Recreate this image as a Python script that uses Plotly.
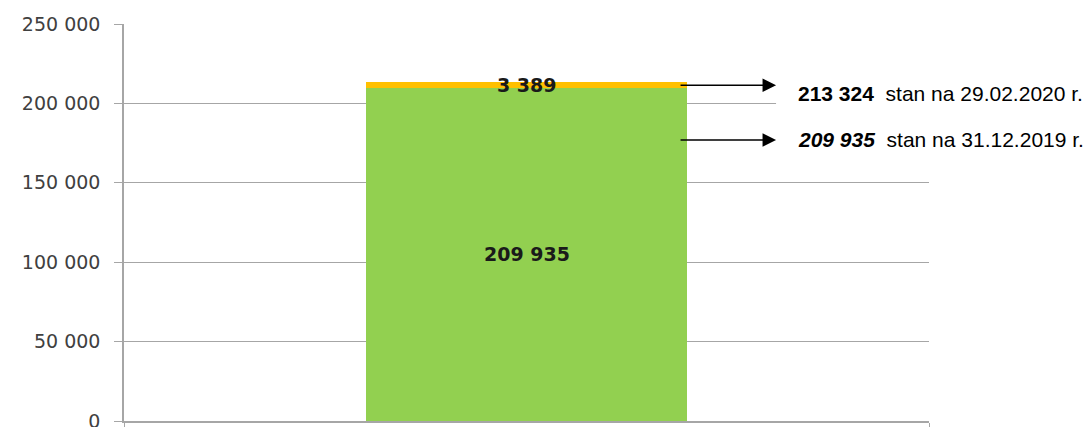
import plotly.graph_objects as go

# ---- data ----
categories = ["Liczba"]
series_names = ["stan na 31.12.2019 r.", "przyrost do 29.02.2020 r."]
base_values = [209935]
increase_values = [3389]
dates = ["31.12.2019", "29.02.2020"]
y_tick_vals = [0, 50000, 100000, 150000, 200000, 250000]
y_tick_text = ["0", "50 000", "100 000", "150 000", "200 000", "250 000"]


def fmt(v):
    return f"{v:,}".replace(",", " ")


total_values = [b + i for b, i in zip(base_values, increase_values)]

GREEN = "#92D050"
ORANGE = "#FFC000"
GRID = "#A6A6A6"

fig = go.Figure()
fig.add_trace(go.Bar(
    x=categories, y=base_values, name=series_names[0],
    marker=dict(color=GREEN, line=dict(width=0)), width=0.398,
    hoverinfo="skip",
))
fig.add_trace(go.Bar(
    x=categories, y=increase_values, name=series_names[1],
    marker=dict(color=ORANGE, line=dict(width=0)), width=0.398,
    hoverinfo="skip",
))

annotations = []
label_font = dict(family="DejaVu Sans", size=19, color="#1a1a1a", weight="bold")
# bar value labels
for c, b, inc in zip(categories, base_values, increase_values):
    annotations.append(dict(
        x=c, y=b / 2, xref="x", yref="y", text=fmt(b), showarrow=False,
        font=label_font,
    ))
    annotations.append(dict(
        x=c, y=b + inc / 2, xref="x", yref="y", text=fmt(inc), showarrow=False,
        font=label_font,
    ))

# arrows
for yp in [0.846, 0.708]:
    annotations.append(dict(
        x=0.81, y=yp, xref="paper", yref="paper", ax=-97, ay=0,
        text="", showarrow=True, arrowhead=2, arrowsize=1.8, arrowwidth=1.5,
        arrowcolor="black",
    ))

nb = "\u00a0"
annotations.append(dict(
    x=0.835, y=0.826, xref="paper", yref="paper", xanchor="left", yanchor="middle",
    showarrow=False,
    text=f"<b>{fmt(total_values[0])}</b>{nb}{nb}stan na {dates[1]} r.",
    font=dict(family="Arial, Liberation Sans", size=21, color="black"),
))
annotations.append(dict(
    x=0.835, y=0.708, xref="paper", yref="paper", xanchor="left", yanchor="middle",
    showarrow=False,
    text=f"<b><i>{fmt(base_values[0])}</i></b>{nb}{nb}stan na {dates[0]} r.",
    font=dict(family="Arial, Liberation Sans", size=21, color="black"),
))

fig.update_layout(
    width=1091, height=427,
    margin=dict(l=124, r=162, t=24, b=6, autoexpand=False),
    paper_bgcolor="white", plot_bgcolor="white",
    barmode="stack", showlegend=False,
    annotations=annotations,
    shapes=[dict(
        type="rect", xref="paper", yref="paper",
        x0=0.81, x1=1.0, y0=0.79, y1=0.81,
        fillcolor="white", line=dict(width=0), layer="above",
    )],
    xaxis=dict(
        type="category", range=[-0.5, 0.5], showticklabels=False,
        showgrid=False, showline=True, linecolor=GRID, linewidth=1.5,
        ticks="outside", tickson="boundaries", ticklen=6, tickcolor=GRID,
        zeroline=False,
    ),
    yaxis=dict(
        range=[0, 250000], tickvals=y_tick_vals, ticktext=y_tick_text,
        showgrid=True, gridcolor=GRID, gridwidth=1.2,
        showline=True, linecolor=GRID, linewidth=1.5,
        ticks="outside", ticklen=8, tickcolor=GRID, ticklabelstandoff=10,
        ticklabeloverflow="allow",
        tickfont=dict(family="DejaVu Sans", size=19, color="#404040"),
        zeroline=False, automargin=False,
    ),
)

fig.write_html(
    "out.html",
    config={"displayModeBar": False},
    post_script="document.body.style.margin='0';document.body.style.overflow='hidden';",
)
